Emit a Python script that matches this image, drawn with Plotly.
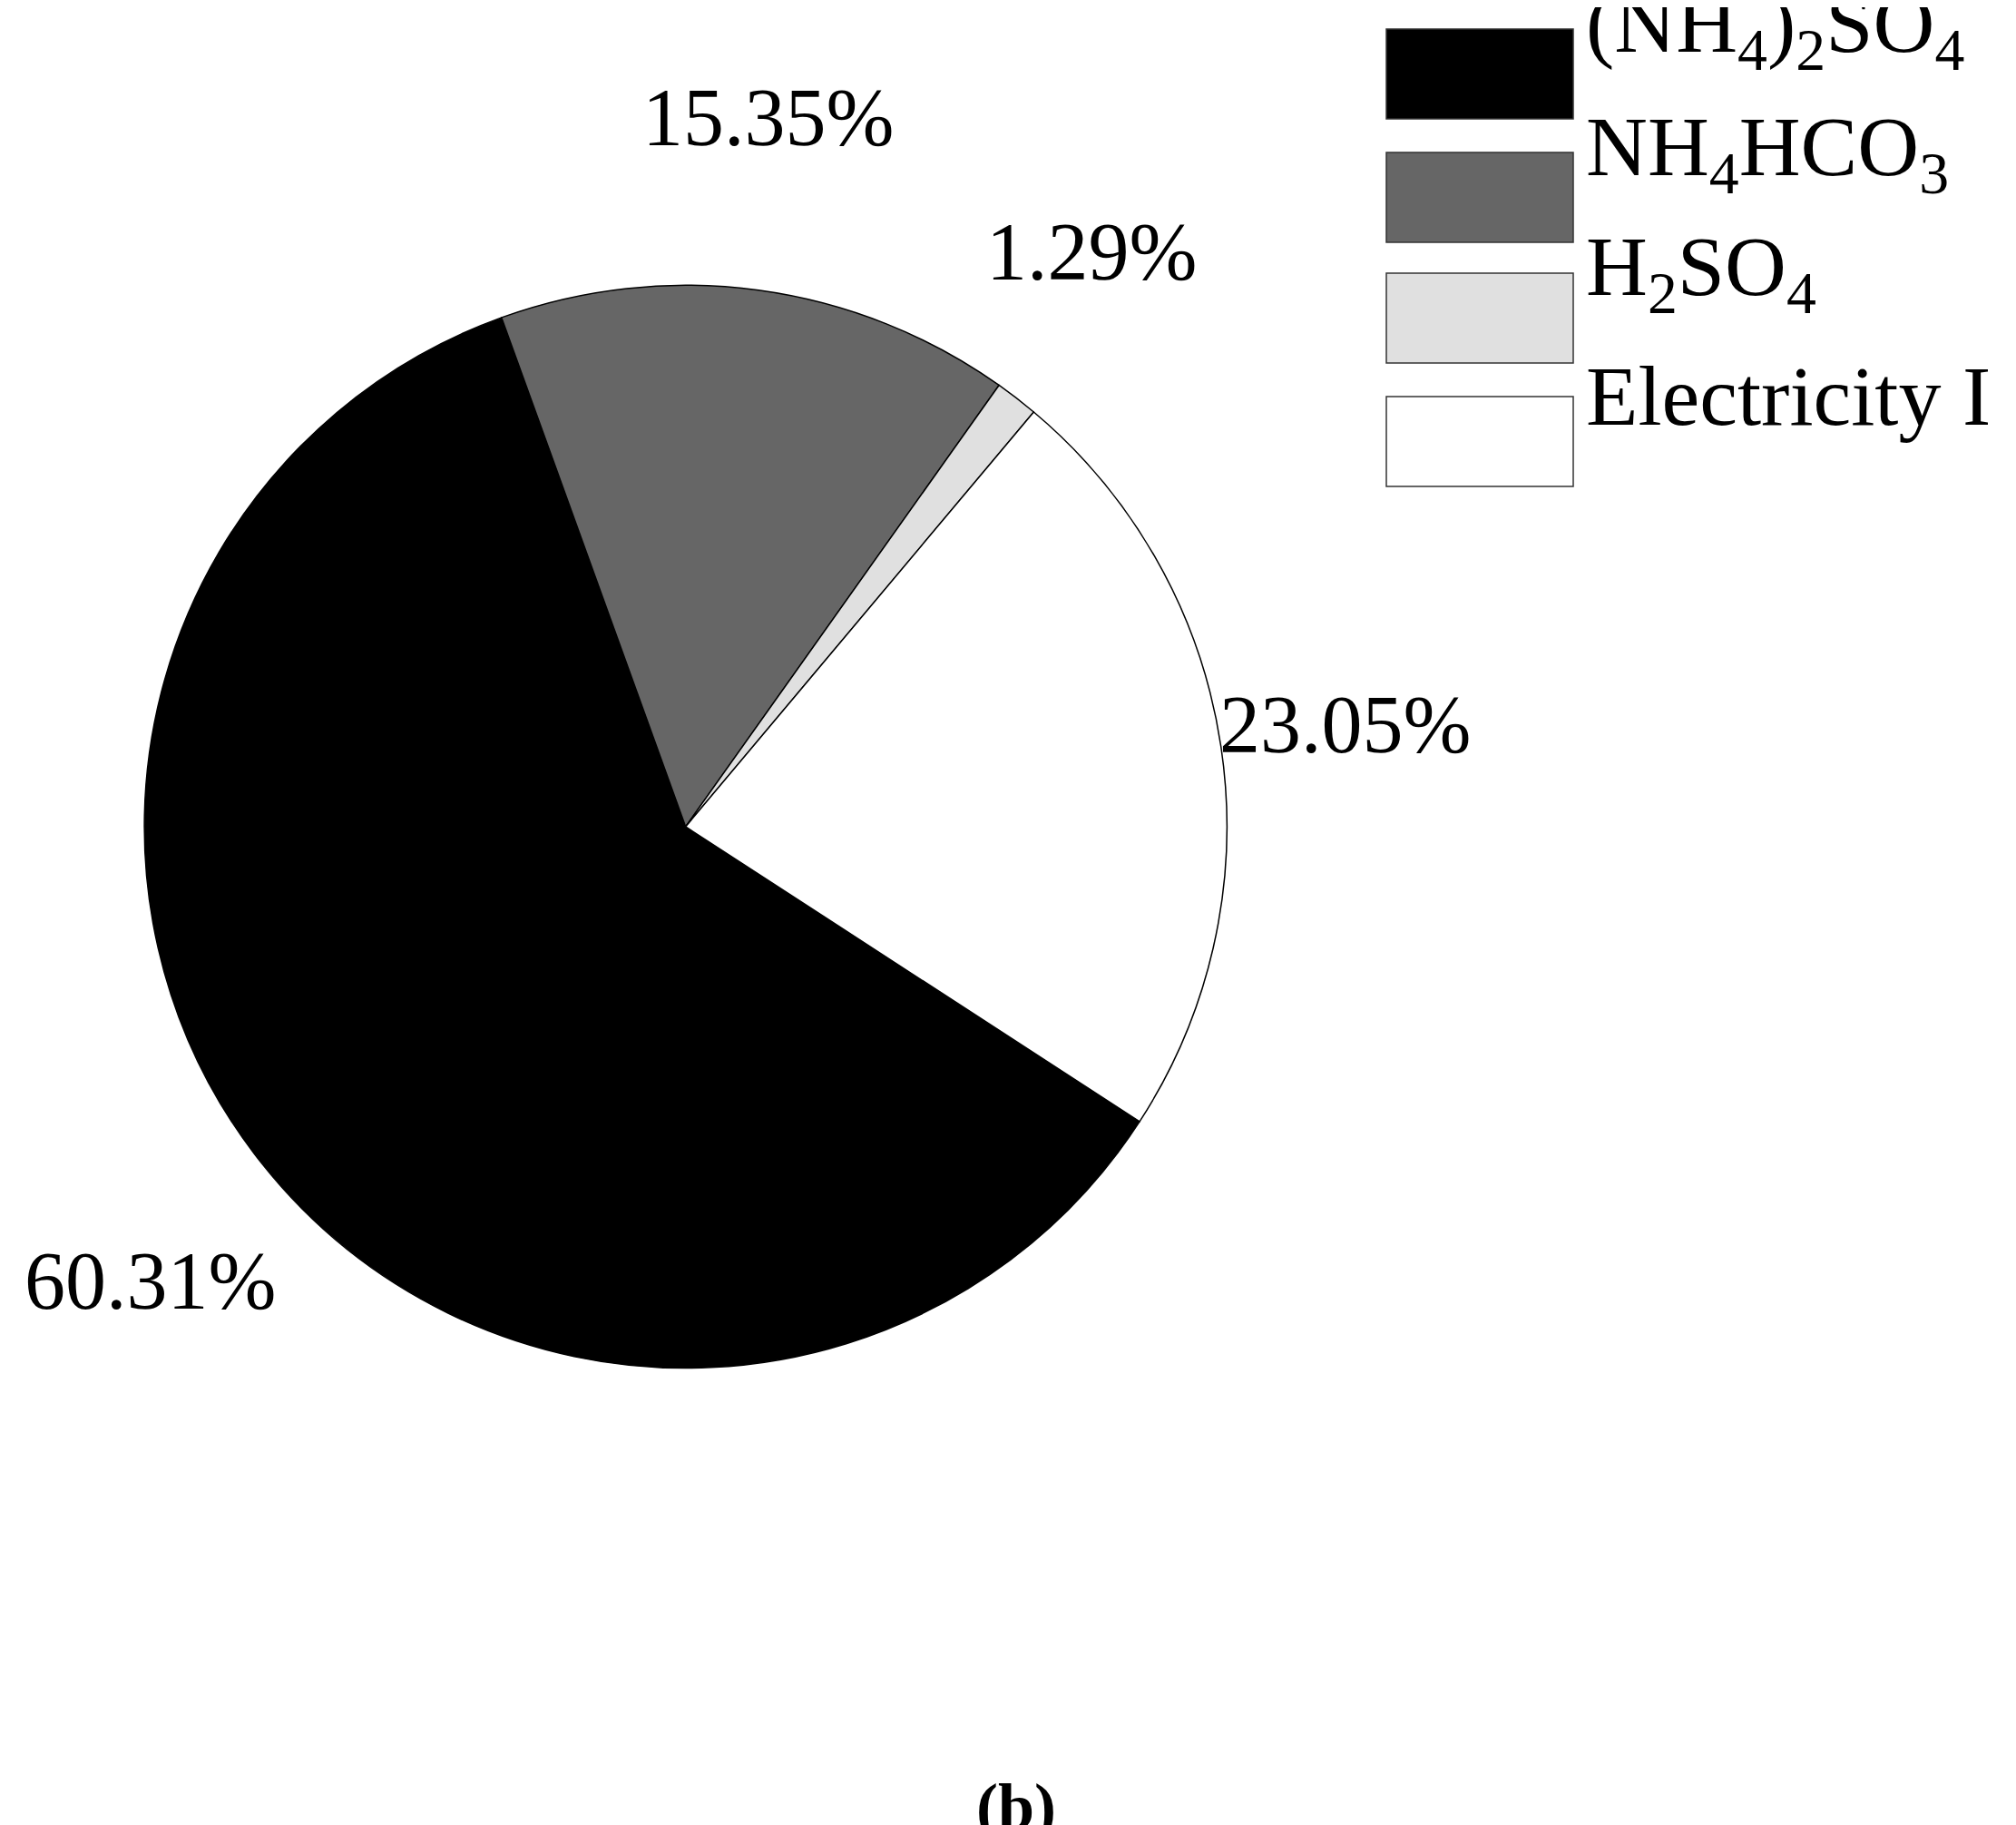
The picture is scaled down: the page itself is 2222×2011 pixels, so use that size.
import plotly.graph_objects as go

labels = ["(NH<sub>4</sub>)<sub>2</sub>SO<sub>4</sub>", "NH<sub>4</sub>HCO<sub>3</sub>",
          "H<sub>2</sub>SO<sub>4</sub>", "Electricity I"]
values = [60.31, 15.35, 1.29, 23.05]
colors = ["#000000", "#666666", "#e0e0e0", "#ffffff"]

W, H = 2222, 2011
font = "Liberation Serif"

fig = go.Figure()
fig.add_trace(go.Pie(
    labels=labels, values=values, sort=False, direction="clockwise", rotation=123,
    marker=dict(colors=colors, line=dict(color="black", width=1.5)),
    textinfo="none", hoverinfo="label+percent", showlegend=False,
    domain=dict(x=[0.068, 0.605], y=[0.254, 0.848]),
))

# percent labels outside the slices (pixel positions from the reference)
label_pos = [(17, 1403, "left"), (838, 122, "center"), (1195, 269, "center"), (1474, 790, "center")]
for v, (px, py, anc) in zip(values, label_pos):
    fig.add_annotation(x=px / W, y=1 - py / H, xref="paper", yref="paper",
                       text=f"{v:.2f}%", showarrow=False, xanchor=anc, yanchor="middle",
                       font=dict(family=font, size=90, color="black"))

# hand-drawn legend with large swatches
rows = [(24, 123), (160, 259), (293, 392), (429, 528)]
for lab, col, (y0, y1) in zip(labels, colors, rows):
    fig.add_shape(type="rect", xref="paper", yref="paper",
                  x0=1520 / W, x1=1726 / W, y0=1 - y1 / H, y1=1 - y0 / H,
                  fillcolor=col, line=dict(color="#333333", width=1.5))
    fig.add_annotation(x=1738 / W, y=1 - ((y0 + y1) / 2 - 50) / H, xref="paper", yref="paper",
                       text=lab, showarrow=False, xanchor="left", yanchor="middle",
                       font=dict(family=font, size=94, color="black"))

fig.add_annotation(x=1112 / W, y=1 - 1983 / H, xref="paper", yref="paper",
                   text="<b>(b)</b>", showarrow=False, yanchor="middle",
                   font=dict(family=font, size=72, color="black"))

fig.update_layout(width=W, height=H, margin=dict(l=0, r=0, t=0, b=0),
                  paper_bgcolor="white", plot_bgcolor="white")

fig.write_html("out.html")
